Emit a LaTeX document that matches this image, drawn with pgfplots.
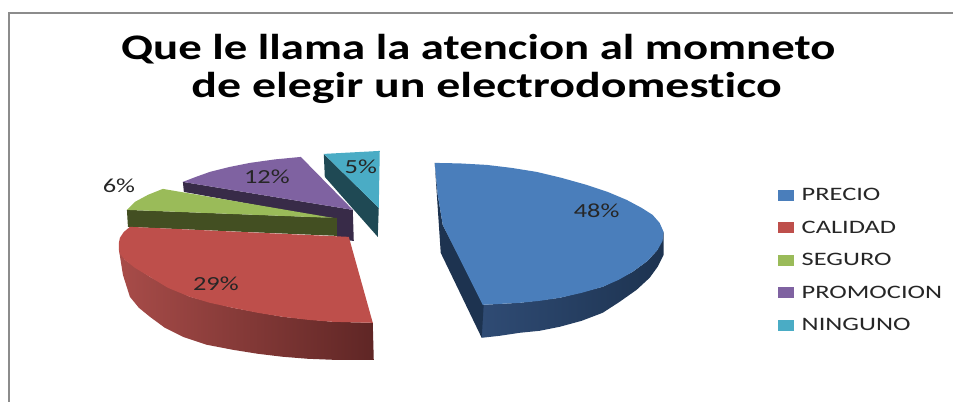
\documentclass[border=0pt]{standalone}
\usepackage{graphicx}
\usepackage{fontspec}
\setmainfont[Ligatures=NoCommon]{Carlito}
\usepackage{pgfplots}
\pgfplotsset{compat=1.18}
% Office-style slice colours, top faces and shaded rims
\definecolor{precio}{HTML}{4A7EBB}
\definecolor{calidad}{HTML}{BE4F4B}
\definecolor{seguro}{HTML}{9ABB59}
\definecolor{promo}{HTML}{7F62A1}
\definecolor{ninguno}{HTML}{4AACC5}
\definecolor{precioSideA}{HTML}{2F4B74}
\definecolor{precioSideB}{HTML}{1D3350}
\definecolor{calidadSideA}{HTML}{A84C49}
\definecolor{calidadSideB}{HTML}{5F2625}
\definecolor{seguroSide}{HTML}{434F22}
\definecolor{promoSide}{HTML}{382B48}
\definecolor{ningunoSide}{HTML}{1F4954}
\definecolor{frame}{HTML}{8C8C8C}
\definecolor{ink}{HTML}{262626}
\newcommand{\legtext}[1]{\scalebox{1.39}[1]{#1}}
\newcommand{\pct}[1]{\scalebox{1.32}[1]{#1}}
\begin{document}
\begin{tikzpicture}
\begin{axis}[
  scale only axis, width=954pt, height=402pt,
  xmin=0, xmax=954, ymin=0, ymax=402, y dir=reverse,
  axis lines=none, clip=false,
  legend image code/.code={\fill[#1,draw=none] (0pt,-5.5pt) rectangle (16pt,5.5pt);\path[draw=none,fill=none] (0pt,0pt) -- (24pt,0pt);},
  legend cell align=left,
  legend style={draw=none, fill=none, at={(0.8155,0.532)}, anchor=north west,
    inner sep=0pt, font=\fontsize{19}{19}\selectfont\color{ink},
    row sep=18.8pt,
    nodes={inner sep=0pt}},
]
% full page extent of the figure
\path (axis cs:0,0) rectangle (axis cs:954,402);

% outer frame
\addplot[frame, line width=1.2pt, forget plot] coordinates {(9,402) (9,13) (954,13)};

% slice 5 %: NINGUNO
\addplot[fill=ningunoSide, draw=none, forget plot] coordinates {(324,154) (325,177) (378,237) (379,208)};
\addplot[fill=ninguno, draw=none, forget plot] coordinates {(324,154) (380,151) (379,208)};

% slice 12 %: PROMOCION
\addplot[fill=promoSide, draw=none, forget plot] coordinates {(183,182) (353,210) (354,241) (337,240) (337,220) (184,192)};
\addplot[fill=promo, draw=none, forget plot] coordinates {(183,182) (196,177) (210,172) (230,167) (250,163) (275,159.5) (301,157) (353,210)};

% slice 6 %: SEGURO
\addplot[fill=seguroSide, draw=none, forget plot] coordinates {(127,210) (128,227) (337,236) (337,218)};
\addplot[fill=seguro, draw=none, forget plot] coordinates {(127,210) (135,202) (148,195) (163,189) (333,218)};

% slice 29 %: CALIDAD
\addplot[left color=calidadSideA, right color=calidadSideB, draw=none, forget plot] coordinates {
  (119,250) (123,275) (130,297) (139,308) (150,317) (165,328) (183,337) (207,345) (233,350) (258,354) (283,357) (308,359) (333,360) (374,360) (373,323) (333,322) (283,317) (233,308) (190,297) (150,277) (125,260)};
\addplot[fill=calidad, draw=none, forget plot] coordinates {
  (130,227) (349,237) (373,323) (333,322) (308,320) (283,317) (258,313) (233,308) (210,303) (190,297) (168,288) (150,277) (135,268) (125,260) (120,254) (119,250) (119,243) (120,238) (124,232)};

% slice 48 %: PRECIO
\addplot[left color=precioSideA, right color=precioSideB, draw=none, forget plot] coordinates {
  (483,305) (482,338) (500,336) (520,333) (540,331) (560,327) (582,321) (603,313) (620,302) (637,290) (650,278) (658,267) (664,255) (664,232) (658,250) (648,261) (633,272) (603,287) (560,298) (520,303)};
\addplot[fill=precioSideB, draw=none, forget plot] coordinates {(435,163) (441,253) (482,338) (484,305) (443,225) (438,195)};
\addplot[fill=precio, draw=none, forget plot] coordinates {
  (435,163) (460,163.5) (487,165) (512,168) (537,172) (562,178) (587,185) (608,192) (627,200) (642,208) (653,215) (660,223) (664,232) (663,241) (658,250) (648,261) (633,272) (619,280) (603,287) (582,293) (560,298) (540,301) (520,303) (483,305) (463,265) (443,225) (438,195)};

% legend entries in slice order
\addlegendimage{fill=precio}\addlegendentry{\legtext{PRECIO}}
\addlegendimage{fill=calidad}\addlegendentry{\legtext{CALIDAD}}
\addlegendimage{fill=seguro}\addlegendentry{\legtext{SEGURO}}
\addlegendimage{fill=promo}\addlegendentry{\legtext{PROMOCION}}
\addlegendimage{fill=ninguno}\addlegendentry{\legtext{NINGUNO}}

% percentage labels
\begin{scope}[every node/.style={font=\fontsize{20}{20}\selectfont, text=ink, inner sep=0pt}]
\node at (axis cs:597,211) {\pct{48\%}};
\node at (axis cs:216,284) {\pct{29\%}};
\node at (axis cs:267,177) {\pct{12\%}};
\node at (axis cs:119,186) {\pct{6\%}};
\node at (axis cs:361,167) {\pct{5\%}};
\end{scope}

% title, two separately placed lines
\begin{scope}[every node/.style={inner sep=0pt, text=black, anchor=base, font=\fontsize{36}{38}\selectfont\bfseries}]
\node at (axis cs:478.5,60) {\scalebox{1.30}[1]{Que le llama la atencion al momneto}};
\node at (axis cs:487,98) {\scalebox{1.33}[1]{de elegir un electrodomestico}};
\end{scope}
\end{axis}
\end{tikzpicture}
\end{document}
